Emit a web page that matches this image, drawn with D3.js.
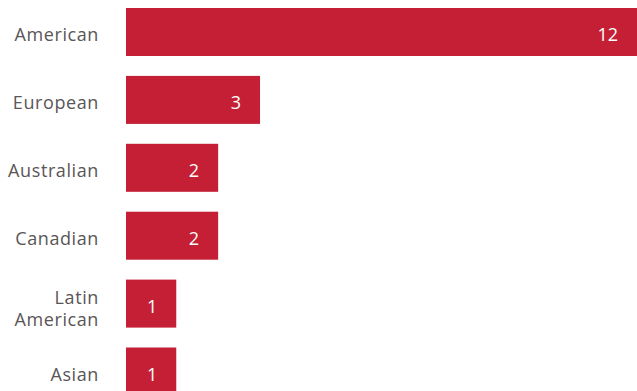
<!DOCTYPE html>
<html><head><meta charset="utf-8">
<script src="https://cdn.jsdelivr.net/npm/d3@7"></script>
<style>body{margin:0;background:#fff;}svg{display:block;}</style>
</head><body>
<svg id="c" width="637" height="391"></svg>
<script>
const categories = ["American", "European", "Australian", "Canadian", "Latin American", "Asian"];
const categoryLines = [["American"], ["European"], ["Australian"], ["Canadian"], ["Latin", "American"], ["Asian"]];
const values = [12, 3, 2, 2, 1, 1];

const svg = d3.select("#c");
const x = d3.scaleLinear().domain([-0.2, 12]).range([126, 637]);
const x0 = x(x.domain()[0]);
const y = d3.scaleBand().domain(categories).range([-1.95, 405.45]).paddingInner(0.293).paddingOuter(0.1465);
const color = "#C41F35";
const font = "'Open Sans', sans-serif";

svg.selectAll("rect.bar").data(values).join("rect")
  .attr("class", "bar")
  .attr("x", x0)
  .attr("y", (d, i) => y(categories[i]))
  .attr("width", d => x(d) - x0)
  .attr("height", y.bandwidth())
  .attr("fill", color);

svg.selectAll("text.val").data(values).join("text")
  .attr("class", "val")
  .attr("x", d => x(d) - 19)
  .attr("y", (d, i) => y(categories[i]) + y.bandwidth() / 2)
  .attr("dy", "0.5em")
  .attr("text-anchor", "end")
  .attr("fill", "#fff")
  .style("font-family", font)
  .style("font-size", "18px")
  .text(d => d);

const lab = svg.selectAll("text.lab").data(categoryLines).join("text")
  .attr("class", "lab")
  .attr("text-anchor", "end")
  .attr("fill", "#5a5556")
  .style("font-family", font)
  .style("font-size", "18px")
  .style("letter-spacing", "0.6px")
  .attr("y", (d, i) => y(categories[i]) + y.bandwidth() / 2);
lab.selectAll("tspan").data(d => d.map((t, j) => ({t, j, n: d.length}))).join("tspan")
  .attr("x", 99)
  .attr("dy", d => d.j === 0 ? (d.n > 1 ? "0em" : "0.52em") : "1.22em")
  .text(d => d.t);
</script>
</body></html>
